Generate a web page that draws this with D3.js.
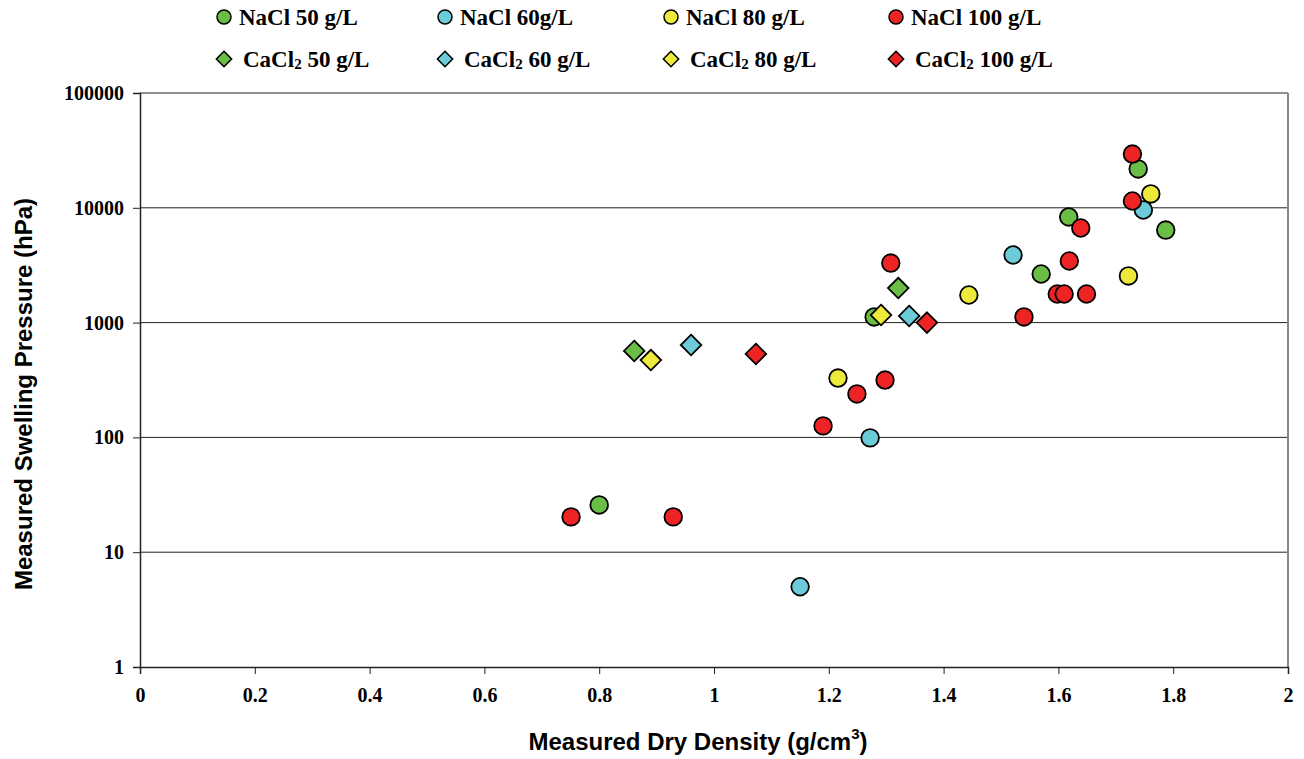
<!DOCTYPE html>
<meta charset="utf-8">
<style>
body { margin: 0; background: #fff; }
.tick text { font-family: "Liberation Serif", "Times New Roman", serif; font-weight: bold; font-size: 20px; fill: #000; }
.legend text { font-family: "Liberation Serif", "Times New Roman", serif; font-weight: bold; font-size: 23px; }
.title { font-family: "Liberation Sans", Arial, sans-serif; font-weight: bold; font-size: 24px; }
</style>
<body>
<div id="chart"></div>
<script src="https://d3js.org/d3.v7.min.js"></script>
<script>
// dry density (g/cm3) and swelling pressure (hPa), per series
var nacl50x  = [0.80, 1.279, 1.570, 1.618, 1.739, 1.787];
var nacl50y  = [25.8, 1120, 2650, 8320, 21800, 6400];
var nacl60x  = [1.150, 1.272, 1.521, 1.748];
var nacl60y  = [5.0, 99, 3880, 9570];
var nacl80x  = [1.216, 1.444, 1.722, 1.761];
var nacl80y  = [329, 1740, 2550, 13200];
var nacl100x = [0.751, 0.929, 1.190, 1.249, 1.298, 1.308, 1.540, 1.598, 1.610, 1.649, 1.619, 1.639, 1.729, 1.729];
var nacl100y = [20.3, 20.3, 126, 239, 316, 3300, 1120, 1775, 1775, 1775, 3440, 6670, 11460, 29400];
var cacl50x  = [0.861, 1.321];
var cacl50y  = [566, 2000];
var cacl60x  = [0.960, 1.340];
var cacl60y  = [638, 1142];
var cacl80x  = [0.890, 1.291];
var cacl80y  = [472, 1164];
var cacl100x = [1.073, 1.371];
var cacl100y = [533, 1000];

var xTicks = [0, 0.2, 0.4, 0.6, 0.8, 1, 1.2, 1.4, 1.6, 1.8, 2];
var yTicks = [1, 10, 100, 1000, 10000, 100000];

var green = "#6abd45", cyan = "#6ccbd8", yellow = "#eeea3c", red = "#ee2424";

var series = [
  {name: "NaCl 50 g/L",  xs: nacl50x,  ys: nacl50y,  color: green,  shape: "circle"},
  {name: "NaCl 60g/L",   xs: nacl60x,  ys: nacl60y,  color: cyan,   shape: "circle"},
  {name: "NaCl 80 g/L",  xs: nacl80x,  ys: nacl80y,  color: yellow, shape: "circle"},
  {name: "NaCl 100 g/L", xs: nacl100x, ys: nacl100y, color: red,    shape: "circle"},
  {name: "50 g/L",  xs: cacl50x,  ys: cacl50y,  color: green,  shape: "diamond"},
  {name: "60 g/L",  xs: cacl60x,  ys: cacl60y,  color: cyan,   shape: "diamond"},
  {name: "80 g/L",  xs: cacl80x,  ys: cacl80y,  color: yellow, shape: "diamond"},
  {name: "100 g/L", xs: cacl100x, ys: cacl100y, color: red,    shape: "diamond"}
];

var W = 1304, H = 759;
var margin = {top: 93, right: 16, bottom: 92, left: 140};
var width = W - margin.left - margin.right,
    height = H - margin.top - margin.bottom;

var svg = d3.select("#chart").append("svg")
    .attr("width", W).attr("height", H);
var g = svg.append("g")
    .attr("transform", "translate(" + margin.left + "," + margin.top + ")");

var x = d3.scaleLinear().domain([0, 2]).range([0, width]);
var y = d3.scaleLog().domain([1, 100000]).range([height, 0]);

// gridlines
g.selectAll(".grid").data(yTicks.slice(1)).enter().append("line")
    .attr("x1", 0).attr("x2", width)
    .attr("y1", d => y(d)).attr("y2", d => y(d))
    .attr("stroke", "#222").attr("stroke-width", 1);

// right border
g.append("line").attr("x1", width).attr("x2", width).attr("y1", 0).attr("y2", height)
    .attr("stroke", "#888").attr("stroke-width", 2);

var xAxis = g.append("g")
    .attr("transform", "translate(0," + height + ")")
    .call(d3.axisBottom(x).tickValues(xTicks).tickFormat(d3.format("")).tickSize(7).tickPadding(14));
var yAxis = g.append("g")
    .call(d3.axisLeft(y).tickValues(yTicks).tickFormat(d3.format("")).tickSize(7).tickPadding(9));
[xAxis, yAxis].forEach(function(a) {
  a.select(".domain").attr("stroke", "#222").attr("stroke-width", 1.5);
  a.selectAll(".tick line").attr("stroke", "#222");
});

var diamond = d3.symbol().type(d3.symbolDiamond2).size(270);

series.forEach(function(s) {
  var pts = s.xs.map((v, i) => [v, s.ys[i]]);
  var sel = g.append("g").selectAll("path").data(pts).enter();
  if (s.shape === "circle") {
    sel.append("circle")
      .attr("cx", d => x(d[0])).attr("cy", d => y(d[1])).attr("r", 8.8)
      .attr("fill", s.color).attr("stroke", "#000").attr("stroke-width", 1.8);
  } else {
    sel.append("path")
      .attr("d", diamond)
      .attr("transform", d => "translate(" + x(d[0]) + "," + y(d[1]) + ")")
      .attr("fill", s.color).attr("stroke", "#000").attr("stroke-width", 1.8);
  }
});

// legend
var legX = [224, 445, 671, 896];
var legend = svg.append("g").attr("class", "legend");
series.forEach(function(s, i) {
  var col = i % 4, row = Math.floor(i / 4);
  var cx = legX[col], cy = row === 0 ? 17 : 59;
  if (s.shape === "circle") {
    legend.append("circle").attr("cx", cx).attr("cy", cy).attr("r", 7)
      .attr("fill", s.color).attr("stroke", "#000").attr("stroke-width", 1.5);
    legend.append("text").attr("x", cx + 15).attr("y", cy + 8).text(s.name);
  } else {
    legend.append("path").attr("d", d3.symbol().type(d3.symbolDiamond2).size(150))
      .attr("transform", "translate(" + cx + "," + cy + ")")
      .attr("fill", s.color).attr("stroke", "#000").attr("stroke-width", 1.5);
    var t = legend.append("text").attr("x", cx + 19).attr("y", cy + 8);
    t.append("tspan").text("CaCl");
    t.append("tspan").attr("font-size", "15px").attr("dy", 2).text("2");
    t.append("tspan").attr("dy", -2).text(" " + s.name);
  }
});

// axis titles
var xt = svg.append("text").attr("class", "title")
    .attr("x", margin.left + width / 2 - 16).attr("y", 750).attr("text-anchor", "middle");
xt.append("tspan").text("Measured Dry Density (g/cm");
xt.append("tspan").attr("font-size", "15px").attr("dy", -11).text("3");
xt.append("tspan").attr("dy", 11).text(")");

svg.append("text").attr("class", "title")
    .attr("transform", "translate(32," + (margin.top + height / 2 + 14) + ") rotate(-90)")
    .attr("text-anchor", "middle")
    .text("Measured Swelling Pressure (hPa)");
</script>
</body>
